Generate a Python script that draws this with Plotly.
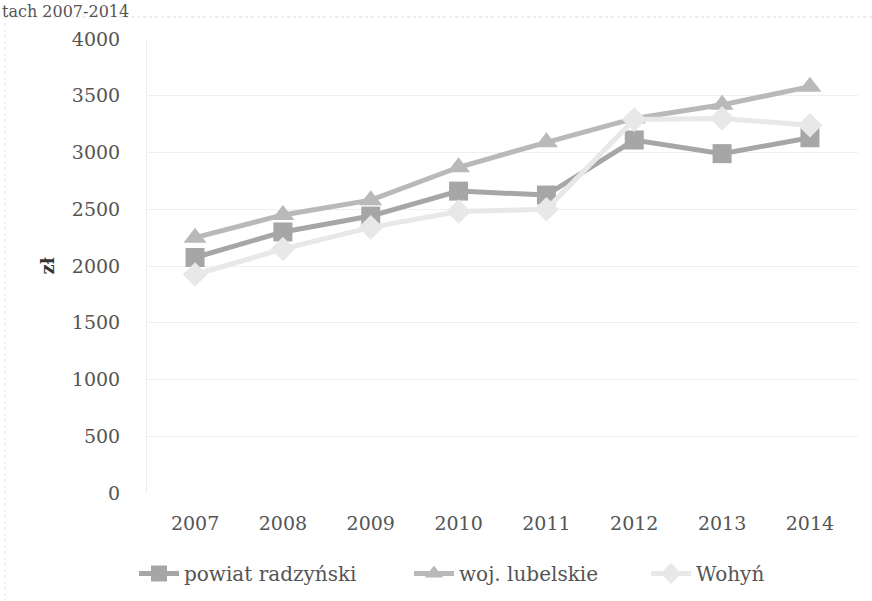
import plotly.graph_objects as go

# Average monthly gross salary, 2007-2014
years = ["2007", "2008", "2009", "2010", "2011", "2012", "2013", "2014"]
powiat_radzynski = [2075, 2300, 2440, 2660, 2625, 3110, 2990, 3130]
woj_lubelskie = [2250, 2450, 2580, 2870, 3090, 3300, 3420, 3580]
wohyn = [1925, 2150, 2340, 2480, 2500, 3290, 3300, 3240]
y_ticks = [0, 500, 1000, 1500, 2000, 2500, 3000, 3500, 4000]

serif = "DejaVu Serif, Liberation Serif, serif"

W, H = 872, 601
L, R, T, B = 147, 14, 39, 108
PW, PH = W - L - R, H - T - B


def px_x(px):
    return (px - L) / PW


def px_y(py):
    return (H - B - py) / PH


fig = go.Figure()
fig.add_trace(go.Scatter(
    x=years, y=powiat_radzynski, name="powiat radzyński", mode="lines+markers",
    line=dict(color="#a6a6a6", width=5),
    marker=dict(symbol="square", size=19, color="#a6a6a6"),
    legendwidth=220,
))
fig.add_trace(go.Scatter(
    x=years, y=woj_lubelskie, name="woj. lubelskie", mode="lines+markers",
    line=dict(color="#b9b9b9", width=5),
    marker=dict(symbol="triangle-up", size=20, color="#b9b9b9"),
    legendwidth=182,
))
fig.add_trace(go.Scatter(
    x=years, y=wohyn, name="Wohyń", mode="lines+markers",
    line=dict(color="#e8e8e8", width=5),
    marker=dict(symbol="diamond", size=19, color="#e8e8e8"),
))

fig.update_layout(
    width=W, height=H,
    margin=dict(l=L, r=R, t=T, b=B, autoexpand=False),
    paper_bgcolor="white", plot_bgcolor="white",
    font=dict(family=serif, size=19, color="#555"),
    showlegend=True,
    legend=dict(orientation="h", x=px_x(134), y=px_y(554), xanchor="left", yanchor="top",
                font=dict(family=serif, size=20, color="#555"), itemwidth=40,
                traceorder="normal"),
    xaxis=dict(type="category", showgrid=False, showline=False, zeroline=False,
               ticks="", ticklabelstandoff=17, automargin=False,
               tickfont=dict(family=serif, size=19, color="#555")),
    yaxis=dict(range=[0, 4000], tickvals=y_ticks, showgrid=True,
               gridcolor="#efefef", gridwidth=1, zeroline=False, automargin=False,
               showline=True, linecolor="#eeeeee", ticks="", ticklabelstandoff=22,
               tickfont=dict(family=serif, size=19, color="#555"),
               title=dict(text="<b>zł</b>", font=dict(family=serif, size=18, color="#333"),
                          standoff=12)),
)

# caption tail and chart frame
fig.add_annotation(text="tach 2007-2014", xref="paper", yref="paper",
                   x=px_x(0), y=px_y(0), xanchor="left", yanchor="top",
                   showarrow=False, font=dict(family=serif, size=16, color="#555"))
fig.add_shape(type="line", xref="paper", yref="paper",
              x0=px_x(5), x1=px_x(W), y0=px_y(17), y1=px_y(17),
              line=dict(color="#dcdcdc", width=1, dash="dot"))
fig.add_shape(type="line", xref="paper", yref="paper",
              x0=px_x(5), x1=px_x(5), y0=px_y(17), y1=px_y(H),
              line=dict(color="#e6e6e6", width=1, dash="dot"))

fig.write_html("out.html")
